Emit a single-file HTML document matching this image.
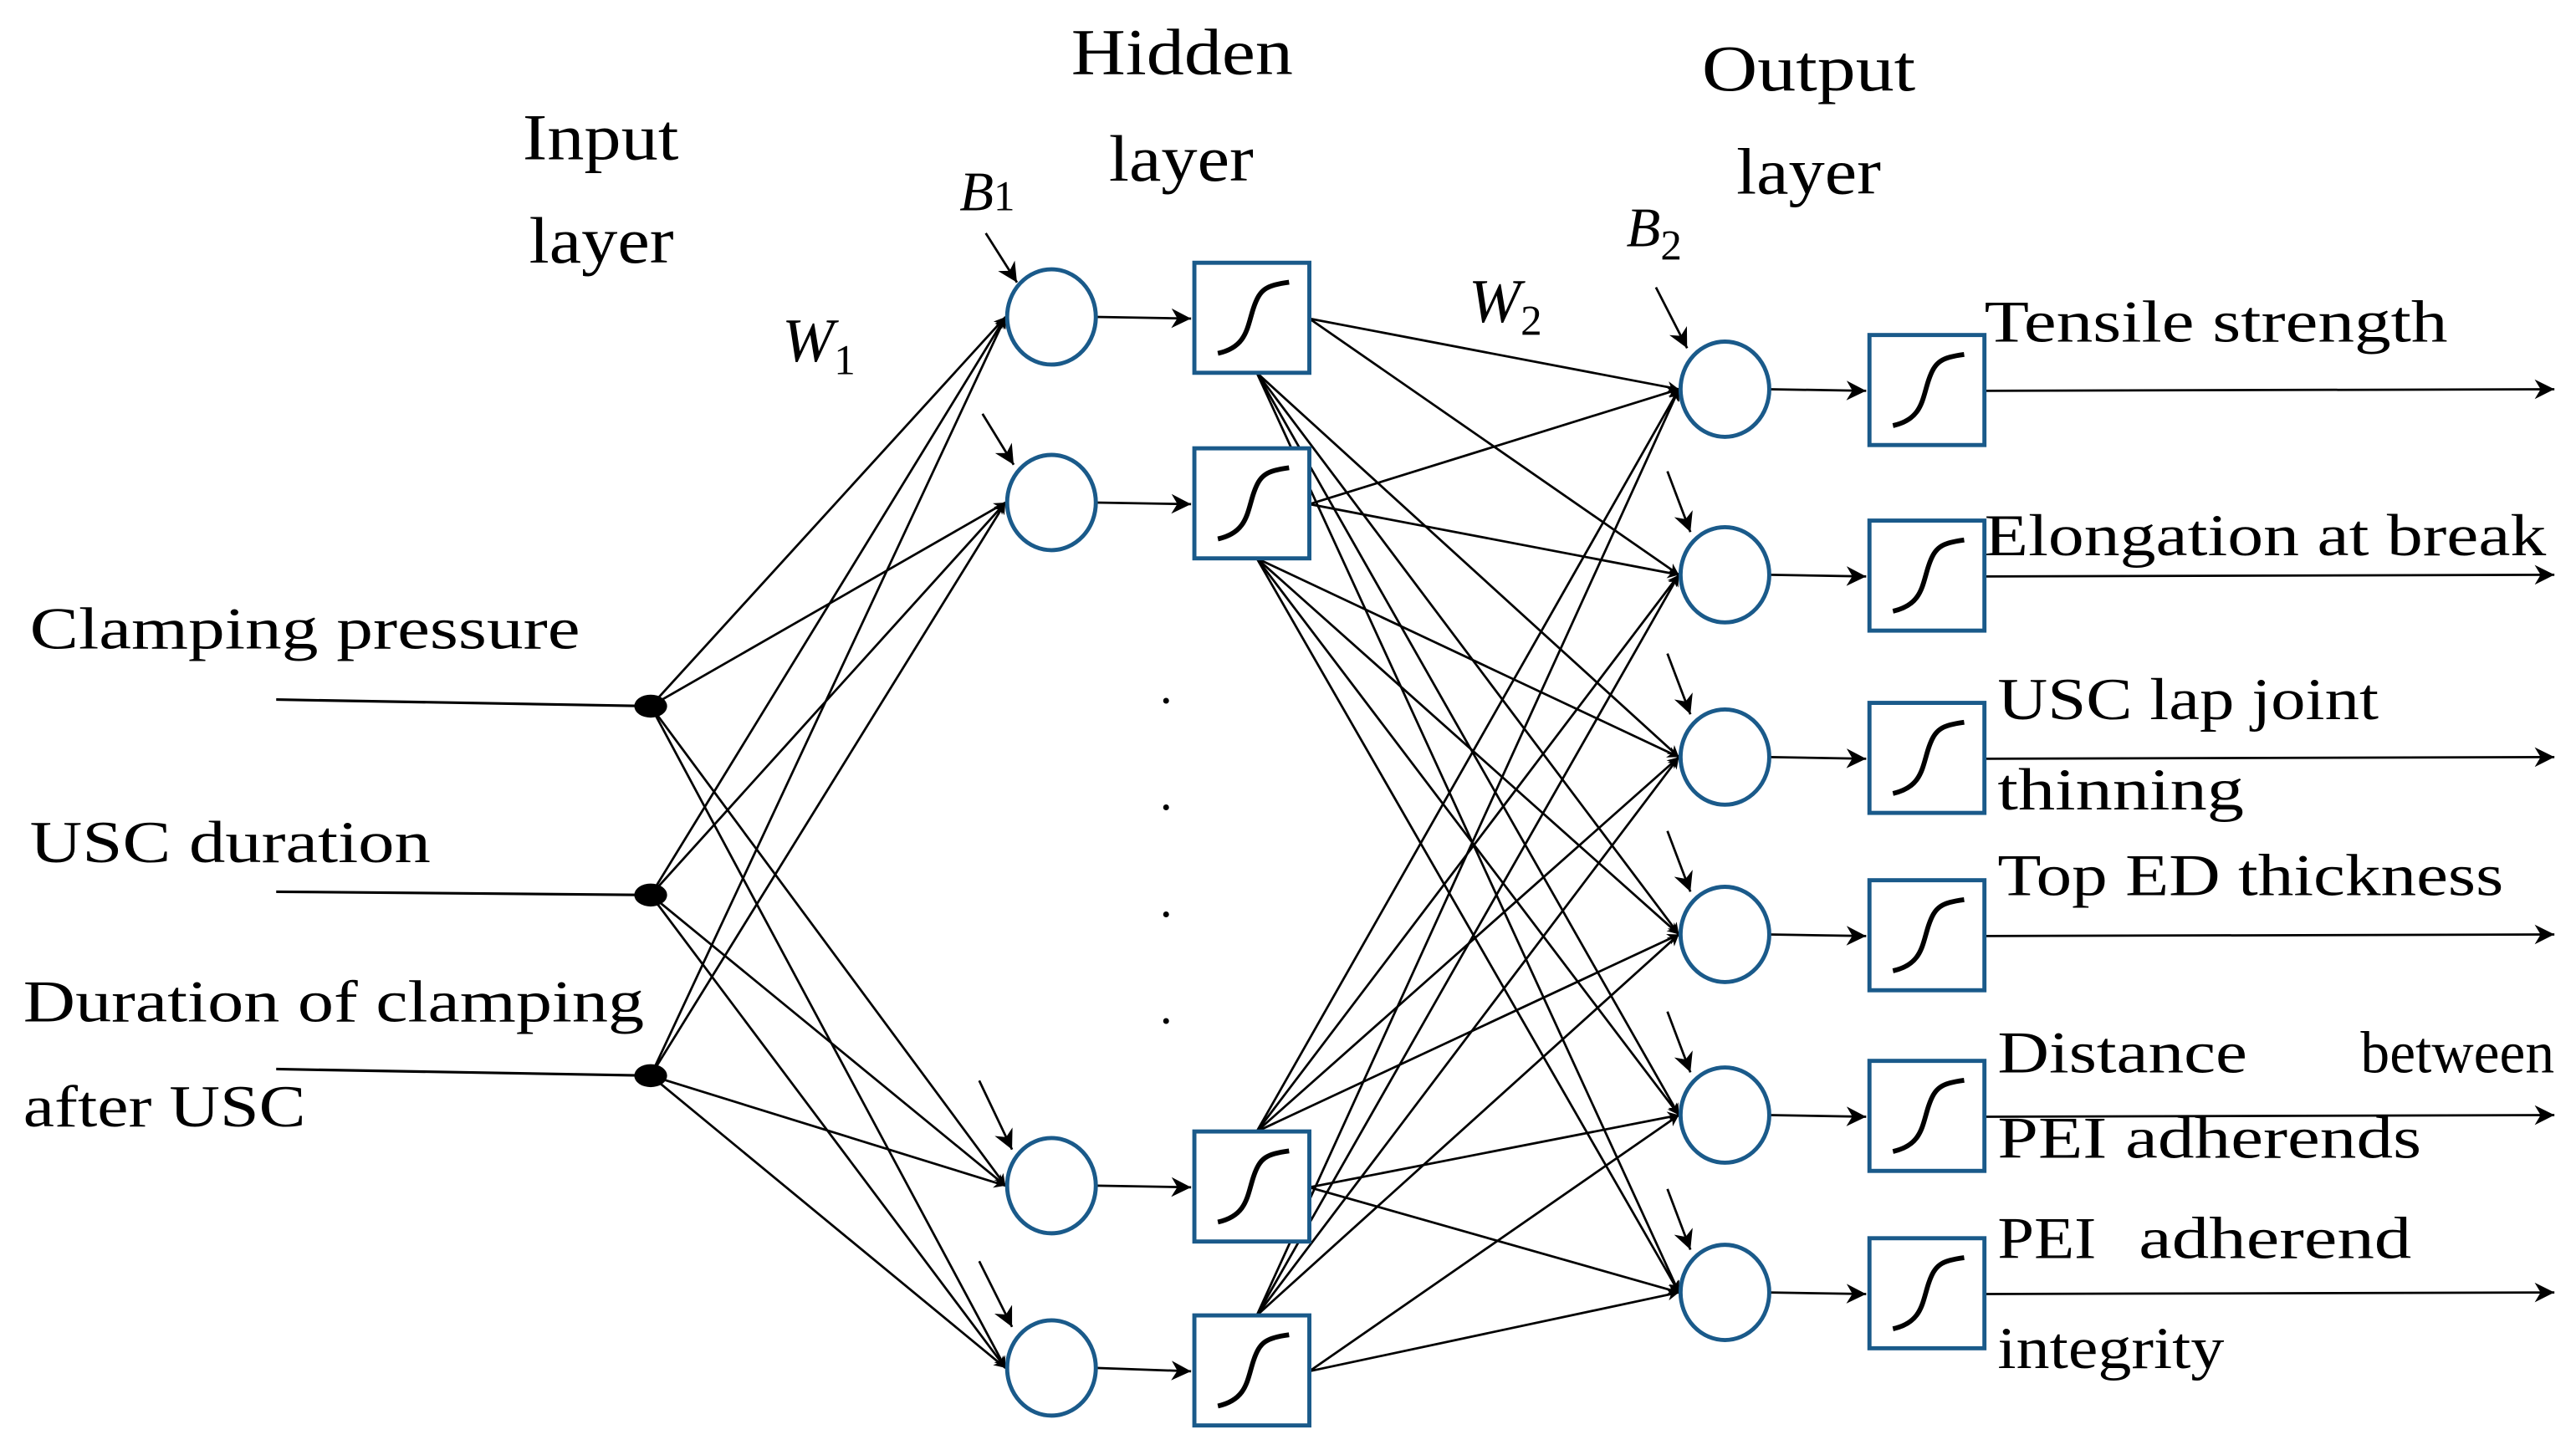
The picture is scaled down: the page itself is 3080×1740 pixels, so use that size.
<!DOCTYPE html>
<html><head><meta charset="utf-8"><style>html,body{margin:0;padding:0;background:#fff}svg{display:block}</style></head>
<body>
<svg width="3080" height="1740" viewBox="0 0 1568 886" xmlns="http://www.w3.org/2000/svg" font-family="'Liberation Serif', serif" font-size="36" fill="#000">
<defs>
<marker id="a" viewBox="0 0 10 10" refX="10" refY="5" markerWidth="7" markerHeight="7" markerUnits="userSpaceOnUse" orient="auto"><path d="M0,0 L10,5 L0,10 L3,5 z" fill="#000"/></marker>
<marker id="b" viewBox="0 0 10 10" refX="10" refY="5" markerWidth="12" markerHeight="12" markerUnits="userSpaceOnUse" orient="auto"><path d="M0,0 L10,5 L0,10 L3,5 z" fill="#000"/></marker>
<symbol id="sig" viewBox="0 0 70 68"><path d="M14,56 C32,52 32,40 36,28 C40,16 44,14 58,12" fill="none" stroke="#000" stroke-width="3"/></symbol>
</defs>
<g stroke="#000" stroke-width="1.4" fill="none" marker-end="url(#a)" id="conn"></g>
<g stroke="#000" stroke-width="1.6" fill="none">
<line x1="168" y1="426" x2="396" y2="430"/>
<line x1="168" y1="543" x2="396" y2="545"/>
<line x1="168" y1="651" x2="396" y2="655"/>
</g>
<g fill="#000"><ellipse cx="396" cy="430" rx="10" ry="7"/><ellipse cx="396" cy="545" rx="10" ry="7"/><ellipse cx="396" cy="655" rx="10" ry="7"/></g>
<g id="nodes"></g>
<g font-size="30" fill="#000"><text x="706" y="428">.</text><text x="706" y="493">.</text><text x="706" y="558">.</text><text x="706" y="623">.</text></g>
<g font-size="40">
<text x="318" y="97" textLength="95" lengthAdjust="spacingAndGlyphs">Input</text>
<text x="322" y="160" textLength="88" lengthAdjust="spacingAndGlyphs">layer</text>
<text x="652" y="45" textLength="135" lengthAdjust="spacingAndGlyphs">Hidden</text>
<text x="675" y="110" textLength="88" lengthAdjust="spacingAndGlyphs">layer</text>
<text x="1036" y="55" textLength="130" lengthAdjust="spacingAndGlyphs">Output</text>
<text x="1057" y="118" textLength="88" lengthAdjust="spacingAndGlyphs">layer</text>
</g>
<text x="584" y="128" font-style="italic" font-size="34">B<tspan font-size="26" font-style="normal">1</tspan></text>
<text x="476" y="220" font-style="italic" font-size="38">W<tspan font-size="26" font-style="normal" dy="8">1</tspan></text>
<text x="894" y="196" font-style="italic" font-size="38">W<tspan font-size="26" font-style="normal" dy="8">2</tspan></text>
<text x="990" y="150" font-style="italic" font-size="34">B<tspan font-size="26" font-style="normal" dy="8">2</tspan></text>
<text x="18" y="395" textLength="335" lengthAdjust="spacingAndGlyphs">Clamping pressure</text>
<text x="18" y="525" textLength="244" lengthAdjust="spacingAndGlyphs">USC duration</text>
<text x="14" y="622" textLength="378" lengthAdjust="spacingAndGlyphs">Duration of clamping</text>
<text x="14" y="686" textLength="172" lengthAdjust="spacingAndGlyphs">after USC</text>
<text x="1208" y="208" textLength="282" lengthAdjust="spacingAndGlyphs">Tensile strength</text>
<text x="1208" y="338" textLength="342" lengthAdjust="spacingAndGlyphs">Elongation at break</text>
<text x="1216" y="438" textLength="232" lengthAdjust="spacingAndGlyphs">USC lap joint</text>
<text x="1216" y="493" textLength="150" lengthAdjust="spacingAndGlyphs">thinning</text>
<text x="1216" y="545" textLength="308" lengthAdjust="spacingAndGlyphs">Top ED thickness</text>
<text x="1216" y="653" textLength="152" lengthAdjust="spacingAndGlyphs">Distance</text>
<text x="1437" y="653" textLength="118" lengthAdjust="spacingAndGlyphs">between</text>
<text x="1216" y="705" textLength="258" lengthAdjust="spacingAndGlyphs">PEI adherends</text>
<text x="1216" y="766" textLength="60" lengthAdjust="spacingAndGlyphs">PEI</text>
<text x="1302" y="766" textLength="166" lengthAdjust="spacingAndGlyphs">adherend</text>
<text x="1216" y="833" textLength="138" lengthAdjust="spacingAndGlyphs">integrity</text>
<script>
(function(){
var NS="http://www.w3.org/2000/svg";
var conn=document.getElementById("conn"),nodes=document.getElementById("nodes");
function L(x1,y1,x2,y2,big){var l=document.createElementNS(NS,"line");l.setAttribute("x1",x1);l.setAttribute("y1",y1);l.setAttribute("x2",x2);l.setAttribute("y2",y2);if(big)l.setAttribute("marker-end","url(#b)");conn.appendChild(l);}
function E(cx,cy){var e=document.createElementNS(NS,"ellipse");e.setAttribute("cx",cx);e.setAttribute("cy",cy);e.setAttribute("rx",27);e.setAttribute("ry",29);e.setAttribute("fill","#fff");e.setAttribute("stroke","#1a5a8a");e.setAttribute("stroke-width",2.5);nodes.appendChild(e);}
function B(x,y){var r=document.createElementNS(NS,"rect");r.setAttribute("x",x);r.setAttribute("y",y);r.setAttribute("width",70);r.setAttribute("height",67);r.setAttribute("fill","#fff");r.setAttribute("stroke","#1a5a8a");r.setAttribute("stroke-width",2.5);nodes.appendChild(r);var u=document.createElementNS(NS,"use");u.setAttribute("href","#sig");u.setAttribute("x",x);u.setAttribute("y",y);u.setAttribute("width",70);u.setAttribute("height",67);nodes.appendChild(u);}
var inp=[430,545,655],hid=[193,306,722,833],out=[237,350,461,569,679,787];
inp.forEach(function(iy){hid.forEach(function(hy){L(396,iy,612,hy);});});
var hb=[160,273,689,801];
hb.forEach(function(by,i){var sy=by+34;
 out.forEach(function(oy,j){var sx=797,yy=sy;
  if((i<2&&j>1)||(i>=2&&j<4)){sx=765;yy=(i<2)?by+67:by;}
  L(sx,yy,1022,oy);});
});
hid.forEach(function(hy,i){L(667,hy,725,hb[i]+34,true);});
out.forEach(function(oy,j){var bx=1138,by=oy-33;L(1077,oy,1136,oy+1,true);L(1208,oy+1,1555,oy,true);B(bx,by);E(1050,oy);});
hid.forEach(function(hy,i){B(727,hb[i]);E(640,hy);});
L(600,142,619,172,true);L(598,252,617,283,true);L(596,658,616,700,true);L(596,768,616,808,true);
L(1008,175,1027,212,true);
[350,461,569,679,787].forEach(function(oy){L(1015,oy-63,1029,oy-26,true);});
})();
</script>
</svg>
</body></html>
